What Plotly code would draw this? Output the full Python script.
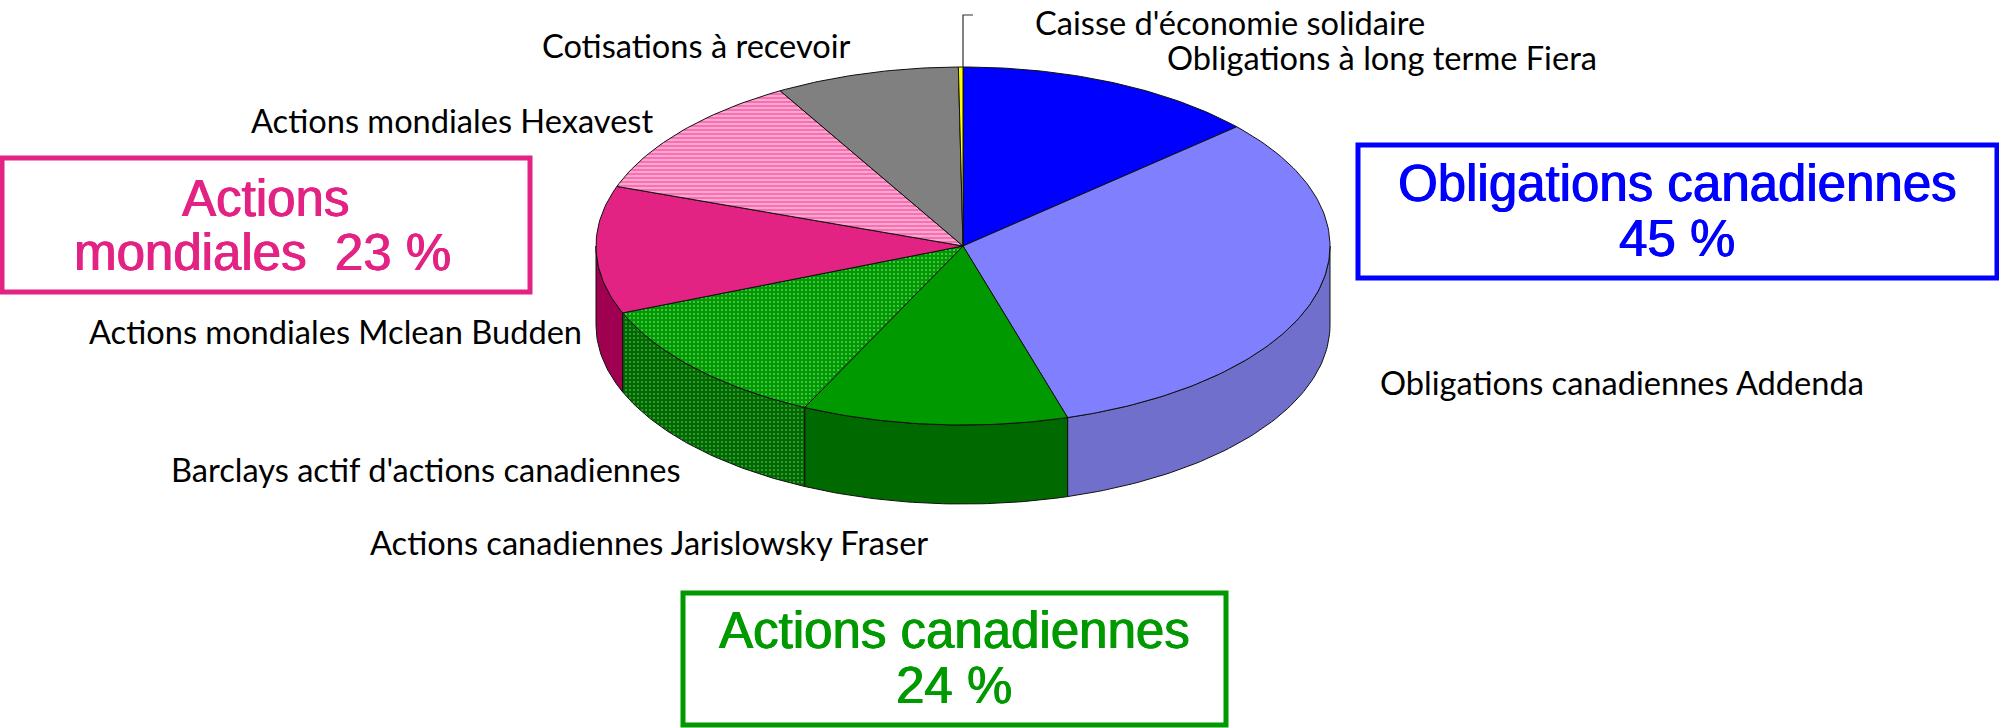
import math
import plotly.graph_objects as go

# ---- data (percent of the portfolio, clockwise from 12 o'clock) ----
slice_names = ["Obligations à long terme Fiera",
               "Obligations canadiennes Addenda", "Actions canadiennes Jarislowsky Fraser",
               "Barclays actif d'actions canadiennes", "Actions mondiales Mclean Budden",
               "Actions mondiales Hexavest", "Cotisations à recevoir", "Caisse d'économie solidaire"]
slice_values = [13.4, 32.0, 11.7, 11.8, 11.5, 11.3, 8.1, 0.2]
top_colors = ["#0000ff", "#8080ff", "#009900", "#009900", "#e32383", "#ffa6d0", "#808080", "#ffff00"]
side_colors = ["#0000b0", "#7070cc", "#006a00", "#006a00", "#a00050", "#b06090", "#606060", "#b0b000"]
top_patterns = [None, None, None, ".", None, "-", None, None]
side_patterns = [None, None, None, ".", None, None, None, None]
pattern_fg = [None, None, None, "#5ccc5c", None, "#e32383", None, None]
side_pattern_fg = [None, None, None, "#45a545", None, None, None, None]

group_lines = [["Obligations canadiennes", "45 %"], ["Actions canadiennes", "24 %"], ["Actions", "mondiales  23 %"]]
group_colors = ["#0000ff", "#009900", "#e32383"]

# ---- layout (canvas pixels) ----
W, H = 1999, 728
CX, CY, RX, RY, DEPTH = 963, 246, 367, 179, 79

label_pos = {  # x (left), y (middle)
    "Caisse d'économie solidaire": (1033, 22),
    "Obligations à long terme Fiera": (1165, 57),
    "Cotisations à recevoir": (540, 45),
    "Actions mondiales Hexavest": (249, 120),
    "Actions mondiales Mclean Budden": (87, 331),
    "Barclays actif d'actions canadiennes": (169, 469),
    "Actions canadiennes Jarislowsky Fraser": (368, 542),
    "Obligations canadiennes Addenda": (1378, 382),
}
group_boxes = [(1358, 145, 1997, 278), (683, 593, 1226, 725), (2, 158, 530, 292)]
group_text_pos = [[(1677, 183), (1677, 238)], [(954, 630), (954, 685)], [(265, 198), (262, 252)]]
LABEL_FONT = dict(family="Lato", size=32.6, color="#000000")


def pt(t, dy=0.0):
    return CX + RX * math.sin(t), CY - RY * math.cos(t) + dy


def arc(a0, a1, dy=0.0):
    n = max(2, int(abs(a1 - a0) / math.radians(1)) + 2)
    return [pt(a0 + (a1 - a0) * i / (n - 1), dy) for i in range(n)]


def patch(points, color, shape=None, fg=None, size=4, line=1.0, solidity=0.2):
    xs = [p[0] for p in points] + [points[0][0]]
    ys = [p[1] for p in points] + [points[0][1]]
    kw = {}
    if shape:
        kw["fillpattern"] = dict(shape=shape, fgcolor=fg, bgcolor=color, size=size, solidity=solidity,
                                 fillmode="replace")
    return go.Scatter(x=xs, y=ys, mode="lines", fill="toself", fillcolor=color,
                      line=dict(color="#101010", width=line), hoverinfo="skip", showlegend=False, **kw)


fig = go.Figure()
total = sum(slice_values)
angle = 0.0
spans = []
for v in slice_values:
    a1 = angle + v / total * 2 * math.pi
    spans.append((angle, a1))
    angle = a1

# extruded rim (only the front half is visible)
for i, (a0, a1) in enumerate(spans):
    lo, hi = max(a0, math.pi / 2), min(a1, 3 * math.pi / 2)
    if hi > lo:
        pts = arc(lo, hi) + arc(hi, lo, DEPTH)
        fig.add_trace(patch(pts, side_colors[i], side_patterns[i], side_pattern_fg[i], size=4))

# top face
for i, (a0, a1) in enumerate(spans):
    pts = [(CX, CY)] + arc(a0, a1)
    fig.add_trace(patch(pts, top_colors[i], top_patterns[i], pattern_fg[i], size=4))

# leader line of the tiny slice
fig.add_trace(go.Scatter(x=[CX, CX, CX + 10], y=[CY - RY, 15, 15], mode="lines",
                         line=dict(color="#303030", width=1.2), hoverinfo="skip", showlegend=False))

annotations = []
for name in slice_names:
    x, y = label_pos[name]
    annotations.append(dict(x=x, y=y, xref="x", yref="y", text=name, showarrow=False, xanchor="left",
                            yanchor="middle", font=LABEL_FONT))
shapes = []
for lines, col, box, tpos in zip(group_lines, group_colors, group_boxes, group_text_pos):
    shapes.append(dict(type="rect", xref="x", yref="y", x0=box[0], y0=box[1], x1=box[2], y1=box[3],
                       line=dict(color=col, width=5), fillcolor="#ffffff", layer="below"))
    for text, (x, y) in zip(lines, tpos):
        annotations.append(dict(x=x, y=y, xref="x", yref="y", text=text, showarrow=False, xanchor="center",
                                yanchor="middle",
                                font=dict(family="Liberation Sans", size=51, color=col,
                                          shadow=f"0.7px 0 0 {col}, -0.5px 0 0 {col}")))

fig.update_layout(
    width=W, height=H, margin=dict(l=0, r=0, t=0, b=0), paper_bgcolor="#ffffff", plot_bgcolor="#ffffff",
    xaxis=dict(range=[0, W], visible=False, fixedrange=True),
    yaxis=dict(range=[H, 0], visible=False, fixedrange=True),
    showlegend=False, annotations=annotations, shapes=shapes,
)
fig.write_html("out.html", config={"displayModeBar": False},
               post_script="document.body.style.margin='0';document.body.style.overflow='hidden';")
